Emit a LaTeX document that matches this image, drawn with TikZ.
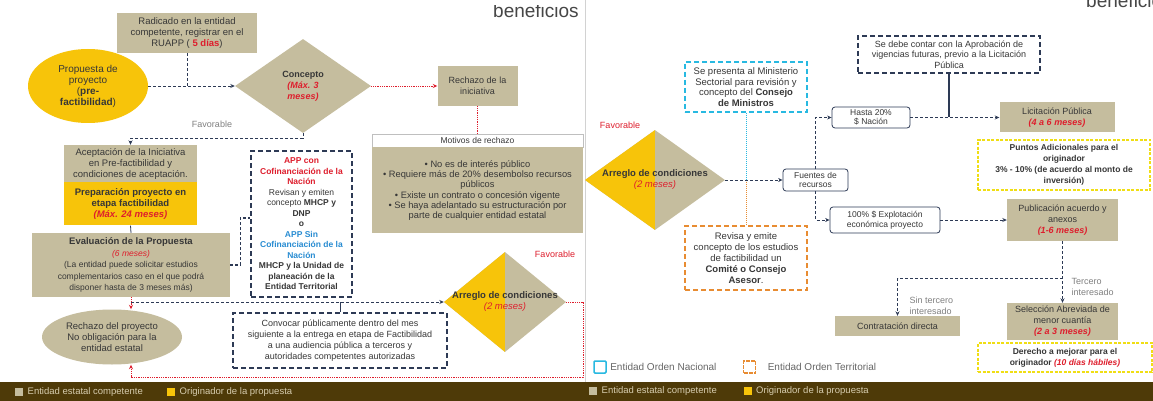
\documentclass[tikz,border=0pt]{standalone}
\usepackage{fontspec}
\setmainfont{Liberation Sans}
\usetikzlibrary{shapes.geometric,arrows.meta,positioning}

\definecolor{tanbg}{RGB}{197,189,158}
\definecolor{yelbg}{RGB}{247,196,10}
\definecolor{navyln}{RGB}{45,58,85}
\definecolor{redtx}{RGB}{222,30,45}
\definecolor{bluetx}{RGB}{40,140,210}
\definecolor{lblue}{RGB}{40,185,225}
\definecolor{orgln}{RGB}{232,140,50}
\definecolor{yelln}{RGB}{240,222,20}
\definecolor{bandbg}{RGB}{78,58,8}
\definecolor{bandtx}{RGB}{215,205,175}
\definecolor{bodytx}{RGB}{55,55,55}
\definecolor{titletx}{RGB}{70,70,70}

\newcommand{\redb}[1]{\textcolor{redtx}{\textbf{#1}}}
\newcommand{\redi}[1]{\textcolor{redtx}{\textit{#1}}}
\newcommand{\redbi}[1]{\textcolor{redtx}{\textbf{\textit{#1}}}}
\newcommand{\blueb}[1]{\textcolor{bluetx}{\textbf{#1}}}

\begin{document}
\begin{tikzpicture}[x=1pt, y=-1pt, font=\fontsize{9}{11}\selectfont, text=bodytx,
    tanbox/.style={fill=tanbg, align=center, inner sep=2pt},
    yelbox/.style={fill=yelbg, align=center, inner sep=2pt},
    navybox/.style={draw=navyln, line width=1.6pt, dash pattern=on 5pt off 3pt,
        fill=white, align=center, inner sep=2pt},
    bluebox/.style={navybox, draw=lblue},
    orangebox/.style={navybox, draw=orgln},
    yeldash/.style={draw=yelln, line width=1.4pt, dash pattern=on 3pt off 1.5pt,
        fill=white, align=center, inner sep=2pt, font=\fontsize{8.5}{11}\selectfont\bfseries},
    roundbox/.style={draw=navyln, rounded corners=3pt, line width=0.8pt, fill=white,
        align=center, inner sep=2pt, font=\fontsize{8.5}{9.5}\selectfont},
    halfdiamond/.style={diamond, fill=tanbg, inner sep=0pt,
        path picture={\fill[yelbg] (path picture bounding box.south west)
            rectangle (path picture bounding box.north);}},
    flow/.style={draw=navyln, line width=0.8pt, densely dashed, -{Stealth[length=4.5pt, width=4pt]}},
    link/.style={draw=navyln, line width=0.8pt, densely dashed},
    redflow/.style={draw=redtx, line width=0.8pt, densely dotted, -{Stealth[length=4.5pt, width=4pt]}},
    redlink/.style={draw=redtx, line width=0.8pt, densely dotted},
    note/.style={text=gray, align=left}]

    \clip (0,0) rectangle (1153,401);
    \fill[white] (0,0) rectangle (1153,401);

    % titles cut by the top edge of the slides
    \begin{scope}
        \clip (480,6) rectangle (585,30);
        \node[anchor=base west, inner sep=0pt, text=titletx, font=\fontsize{19}{19}\selectfont] (tituloA) at (493,18) {beneficios};
    \end{scope}
    \node[anchor=base west, inner sep=0pt, text=titletx, font=\fontsize{19}{19}\selectfont] (tituloB) at (1086,8) {beneficios};
    \draw[gray!35, line width=1pt] (585.5,0) -- (585.5,382);

    % left panel
    \node[tanbox, minimum width=140, minimum height=40, font=\fontsize{9.5}{11}\selectfont] (radicado) at (187,33)
        {Radicado en la entidad\\competente, registrar en el\\RUAPP ( \redb{5 días})};
    \node[ellipse, fill=yelbg, minimum width=120, minimum height=74, align=center, inner sep=0pt,
        font=\fontsize{10}{11}\selectfont] (propuesta) at (88,86)
        {Propuesta de\\proyecto\\(\textbf{pre-}\\\textbf{factibilidad})};
    \node[diamond, fill=tanbg, minimum width=136, minimum height=94, inner sep=0pt, align=center] (concepto) at (303,86)
        {\textbf{Concepto}\\\redbi{(Máx. 3}\\\redbi{meses)}};
    \node[tanbox, minimum width=80, minimum height=40] (rechazoini) at (477.5,86) {Rechazo de la\\iniciativa};
    \node[draw=gray!50, fill=white, minimum width=211, minimum height=13, inner sep=0pt,
        font=\fontsize{8.5}{9}\selectfont] (motivoshd) at (477.5,140.5) {Motivos de rechazo};
    \node[tanbox, minimum width=211, minimum height=86, below=0pt of motivoshd, font=\fontsize{9.3}{10.3}\selectfont] (motivos)
        {• No es de interés público\\• Requiere más de 20\% desembolso recursos\\públicos\\
         • Existe un contrato o concesión vigente\\• Se haya adelantado su estructuración por\\parte de cualquier entidad estatal};
    \node[note] (favorA) at (212,124) {Favorable};

    \node[tanbox, minimum width=133, minimum height=37, font=\fontsize{9.5}{11}\selectfont] (aceptacion) at (130.5,163.5)
        {Aceptación de la Iniciativa\\en Pre-factibilidad y\\condiciones de aceptación.};
    \node[yelbox, minimum width=133, minimum height=43, below=0pt of aceptacion, font=\fontsize{9.5}{11}\selectfont] (preparacion)
        {\textbf{Preparación proyecto en}\\\textbf{etapa factibilidad}\\\redbi{(Máx. 24 meses)}};
    \node[tanbox, minimum width=198, minimum height=64, font=\fontsize{8.5}{11.5}\selectfont] (evaluacion) at (131,265)
        {{\fontsize{9.5}{11.5}\selectfont\textbf{Evaluación de la Propuesta}}\\\redi{(6 meses)}\\(La entidad puede solicitar estudios\\
         complementarios caso en el que podrá\\disponer hasta de 3 meses más)};
    \node[navybox, minimum width=101, minimum height=146, font=\fontsize{8.5}{10.5}\selectfont] (app) at (301.5,224)
        {\redb{APP con}\\\redb{Cofinanciación de la}\\\redb{Nación}\\Revisan y emiten\\concepto \textbf{MHCP y}\\\textbf{DNP}\\
         \textbf{o}\\\blueb{APP Sin}\\\blueb{Cofinanciación de la}\\\blueb{Nación}\\
         \textbf{MHCP y la Unidad de}\\\textbf{planeación de la}\\\textbf{Entidad Territorial}};
    \node[navybox, minimum width=214, minimum height=55] (convocar) at (340,340.5)
        {Convocar públicamente dentro del mes\\siguiente a la entrega en etapa de Factibilidad\\
         a una audiencia pública a terceros y\\autoridades competentes autorizadas};
    \node[ellipse, fill=tanbg, minimum width=140, minimum height=55, align=center, inner sep=0pt,
        font=\fontsize{9.5}{11}\selectfont] (rechazopro) at (112,337)
        {Rechazo del proyecto\\No obligación para la\\entidad estatal};
    \node[halfdiamond, minimum width=122, minimum height=100] (arregloA) at (505,302) {};
    \node[align=center, font=\fontsize{9.5}{11}\selectfont] (arregloAtx) at (arregloA)
        {\textbf{Arreglo de condiciones}\\\redi{(2 meses)}};
    \node[text=redtx] (favorB) at (555,254) {Favorable};

    \draw[link] (radicado.south) -- (radicado.south |- propuesta.east);
    \draw[flow] (propuesta.east) -- (concepto.west);
    \draw[redflow] (concepto.east) -- (rechazoini.west);
    \draw[redlink] (rechazoini.south) -- (motivoshd.north);
    \draw[flow] (concepto.south) -- ++(0,5) -| (aceptacion.north);
    \draw[navyln, line width=0.8pt] (preparacion.south) -- (evaluacion.north);
    \draw[navyln, line width=1.4pt, dash pattern=on 3pt off 2pt] (evaluacion.east) -- ++(10,0) |- ([yshift=6pt]app.west);
    \draw[flow] (evaluacion.south |- arregloA.west) -- (arregloA.west);
    \draw[redflow] (evaluacion.south) -- (evaluacion.south |- rechazopro.north);
    \draw[navyln, line width=1pt] (convocar.north) -- (convocar.north |- arregloA.west);
    \coordinate (retorno) at (583,377);
    \draw[redflow] (arregloA.east) -| (retorno) -| (evaluacion.south |- rechazopro.south);

    % right panel
    \node[halfdiamond, minimum width=140, minimum height=100] (arregloB) at (655,180) {};
    \node[align=center, font=\fontsize{9.5}{11}\selectfont] (arregloBtx) at (arregloB)
        {\textbf{Arreglo de condiciones}\\\redi{(2 meses)}};
    \node[text=redtx] (favorC) at (620,125) {Favorable};
    \node[bluebox, minimum width=122, minimum height=50, font=\fontsize{9.5}{10.5}\selectfont] (consejo) at (746,87)
        {Se presenta al Ministerio\\Sectorial para revisión y\\concepto del \textbf{Consejo}\\\textbf{de Ministros}};
    \node[orangebox, minimum width=122, minimum height=64, font=\fontsize{9.5}{11}\selectfont] (comite) at (746,258)
        {Revisa y emite\\concepto de los estudios\\de factibilidad un\\\textbf{Comité o Consejo}\\\textbf{Asesor}.};
    \draw[lblue, line width=1pt, densely dotted] (consejo.south) -- (consejo.south |- arregloB.east);
    \draw[orgln, line width=1pt, densely dotted] (comite.north) -- (comite.north |- arregloB.east);

    \node[roundbox, minimum width=65, minimum height=22] (fuentes) at (815.5,180) {Fuentes de\\recursos};
    \node[roundbox, minimum width=78, minimum height=21] (hasta) at (871,117.5) {Hasta 20\%\\\$ Nación};
    \node[roundbox, minimum width=110, minimum height=26] (cien) at (885,220) {100\% \$ Explotación\\económica proyecto};
    \draw[flow] (arregloB.east) -- (fuentes.west);
    \draw[flow] (fuentes.north) |- (hasta.west);
    \draw[flow] (fuentes.south) |- (cien.west);

    \node[navybox, minimum width=182, minimum height=37, font=\fontsize{9}{10.5}\selectfont] (vigencias) at (949,54.5)
        {Se debe contar con la Aprobación de\\vigencias futuras, previo a la Licitación\\Pública};
    \node[tanbox, minimum width=115, minimum height=30] (licitacion) at (1057,117.5) {Licitación Pública\\\redbi{(4 a 6 meses)}};
    \draw[flow] (hasta.east) -- (licitacion.west);
    \draw[navyln, line width=1.6pt] (vigencias.south) -- (vigencias.south |- licitacion.west);
    \node[yeldash, minimum width=172, minimum height=50] (puntos) at (1064,165)
        {Puntos Adicionales para el\\originador\\3\% - 10\% (de acuerdo al monto de\\inversión)};

    \node[tanbox, minimum width=111, minimum height=42] (publicacion) at (1062.5,220)
        {Publicación acuerdo y\\anexos\\\redbi{(1-6 meses)}};
    \draw[flow] (cien.east) -- (publicacion.west);
    \node[tanbox, minimum width=111, minimum height=37] (seleccion) at (1062.5,321.5)
        {Selección Abreviada de\\menor cuantía\\\redbi{(2 a 3 meses)}};
    \node[tanbox, minimum width=125, minimum height=20] (contratacion) at (897.5,326) {Contratación directa};
    \coordinate (ramal) at (1062.5,278);
    \draw[flow] (publicacion.south) -- (seleccion.north);
    \draw[flow] (ramal) -| (contratacion.north);
    \node[note, anchor=west] (tercero) at (1068,286.5) {Tercero\\interesado};
    \node[note, anchor=west] (sintercero) at (906,305.5) {Sin tercero\\interesado};
    \node[yeldash, minimum width=174, minimum height=29] (derecho) at (1065,357.5)
        {Derecho a mejorar para el\\originador \redbi{(10 días hábiles)}};

    % legends
    \node[draw=lblue, line width=1.5pt, minimum size=12, inner sep=0pt, rounded corners=1pt] (legnac) at (600,367) {};
    \node[right=0pt of legnac, text=gray!80!black, font=\fontsize{10}{11}\selectfont] (legnactx) {Entidad Orden Nacional};
    \node[draw=orgln, line width=1.5pt, minimum size=12, inner sep=0pt, dash pattern=on 4pt off 1pt] (legter) at (749.5,367) {};
    \node[right=8pt of legter, text=gray!80!black, font=\fontsize{10}{11}\selectfont] (legtertx) {Entidad Orden Territorial};

    \fill[bandbg] (0,382) rectangle (1153,401);
    \node[fill=tanbg, minimum size=8, inner sep=0pt] (bandtanA) at (19,392) {};
    \node[right=1pt of bandtanA, text=bandtx, font=\fontsize{9.5}{10}\selectfont] (bandtanAtx) {Entidad estatal competente};
    \node[fill=yelbg, minimum size=8, inner sep=0pt] (bandyelA) at (171,392) {};
    \node[right=1pt of bandyelA, text=bandtx, font=\fontsize{9.5}{10}\selectfont] (bandyelAtx) {Originador de la propuesta};
    \node[fill=tanbg, minimum size=8, inner sep=0pt] (bandtanB) at (593,391) {};
    \node[right=1pt of bandtanB, text=bandtx, font=\fontsize{9.5}{10}\selectfont] (bandtanBtx) {Entidad estatal competente};
    \node[fill=yelbg, minimum size=8, inner sep=0pt] (bandyelB) at (747.5,391) {};
    \node[right=1pt of bandyelB, text=bandtx, font=\fontsize{9.5}{10}\selectfont] (bandyelBtx) {Originador de la propuesta};
\end{tikzpicture}
\end{document}
